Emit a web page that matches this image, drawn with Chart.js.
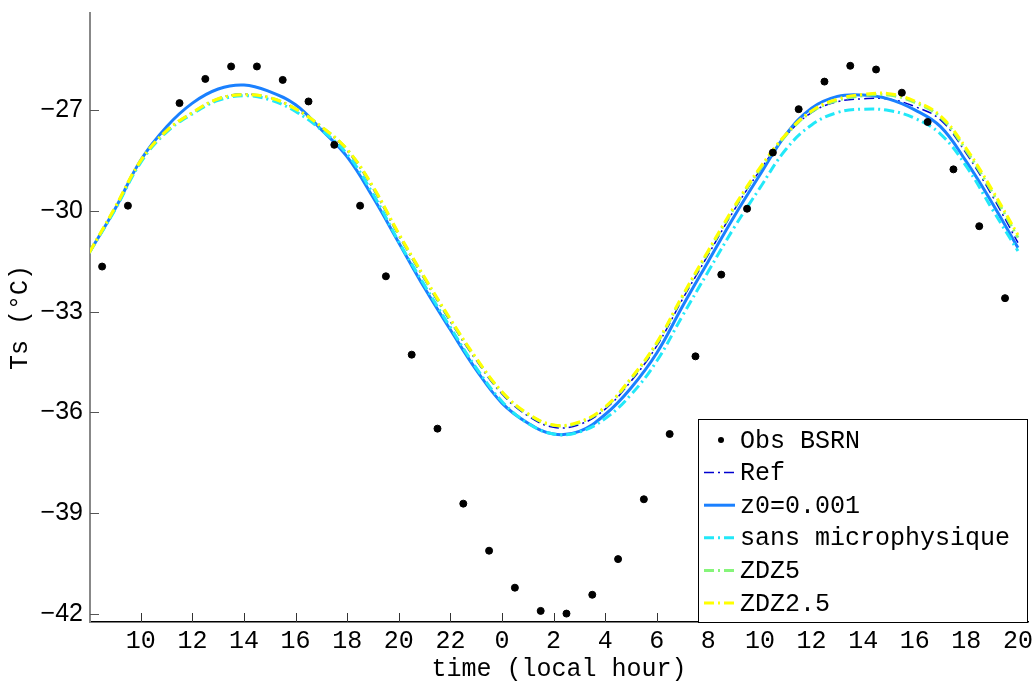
<!DOCTYPE html>
<html>
<head>
<meta charset="utf-8">
<script src="https://cdn.jsdelivr.net/npm/chart.js@4"></script>
<style>
body { margin: 0; background: #fff; }
</style>
</head>
<body>
<canvas id="graph" width="1035" height="682"></canvas>
<script>
// time axis in hours since midnight of day 1 (labels wrap at 24)
var hours = [8,9,10,11,12,13,14,15,16,17,18,19,20,21,22,23,24,25,26,27,28,29,30,31,32,33,34,35,36,37,38,39,40,41,42,43,44]
var obsHours = [8.5,9.5,11.5,12.5,13.5,14.5,15.5,16.5,17.5,18.5,19.5,20.5,21.5,22.5,23.5,24.5,25.5,26.5,27.5,28.5,29.5,30.5,31.5,32.5,33.5,34.5,35.5,36.5,37.5,38.5,39.5,40.5,41.5,42.5,43.5]
var obsBSRN = [-31.66,-29.85,-26.8,-26.08,-25.71,-25.71,-26.11,-26.75,-28.04,-29.85,-31.95,-34.28,-36.48,-38.71,-40.11,-41.21,-41.9,-41.98,-41.42,-40.36,-38.58,-36.64,-34.33,-31.9,-29.94,-28.27,-26.98,-26.16,-25.69,-25.8,-26.49,-27.36,-28.77,-30.46,-32.6]

var ref = [-31.25,-29.95,-28.52,-27.62,-27.08,-26.66,-26.53,-26.64,-26.98,-27.52,-28.22,-29.35,-30.75,-32.05,-33.3,-34.45,-35.45,-36.1,-36.44,-36.36,-35.9,-35.07,-34.02,-32.63,-31.3,-29.98,-28.8,-27.78,-27.08,-26.76,-26.67,-26.68,-26.9,-27.3,-28.3,-29.55,-30.95]
var z0 = [-31.25,-29.95,-28.49,-27.5,-26.8,-26.38,-26.26,-26.46,-26.85,-27.59,-28.4,-29.6,-30.95,-32.3,-33.54,-34.73,-35.72,-36.31,-36.64,-36.56,-36.06,-35.27,-34.23,-32.84,-31.5,-30.17,-28.93,-27.74,-26.95,-26.6,-26.56,-26.68,-27.0,-27.5,-28.54,-29.77,-31.1]
var sansMicro = [-31.25,-29.97,-28.56,-27.66,-27.12,-26.72,-26.58,-26.7,-27.05,-27.6,-28.32,-29.5,-30.92,-32.22,-33.47,-34.67,-35.67,-36.32,-36.64,-36.58,-36.18,-35.47,-34.47,-33.12,-31.8,-30.5,-29.32,-28.18,-27.45,-27.08,-26.98,-27.02,-27.25,-27.72,-28.68,-29.95,-31.2]
var zdz5 = [-31.25,-29.92,-28.52,-27.63,-27.09,-26.68,-26.55,-26.64,-26.97,-27.5,-28.18,-29.3,-30.7,-32.0,-33.25,-34.4,-35.4,-36.05,-36.38,-36.3,-35.85,-35.0,-33.95,-32.55,-31.22,-29.92,-28.76,-27.76,-27.06,-26.72,-26.58,-26.56,-26.78,-27.22,-28.22,-29.45,-30.8]
var zdz25 = [-31.25,-29.9,-28.5,-27.62,-27.08,-26.67,-26.55,-26.64,-26.97,-27.5,-28.18,-29.28,-30.68,-31.98,-33.22,-34.38,-35.38,-36.03,-36.37,-36.28,-35.83,-34.98,-33.92,-32.52,-31.18,-29.88,-28.72,-27.73,-27.03,-26.68,-26.54,-26.52,-26.74,-27.18,-28.15,-29.38,-30.72]

var xTicks = [10,12,14,16,18,20,22,24,26,28,30,32,34,36,38,40,42,44]
var yTicks = [-42,-39,-36,-33,-30,-27]

function pts(xs, ys) {
  return ys.map((v, i) => ({x: xs[i], y: v}))
}

var dashDot = [10, 4, 2, 4]
var mono = '"Liberation Mono", "Courier New", monospace'

// short ticks drawn inside the axes, like matlab
var innerTicks = {
  id: 'innerTicks',
  afterDatasetsDraw(chart) {
    var ctx = chart.ctx, a = chart.chartArea
    var xs = chart.scales.x, ys = chart.scales.y
    ctx.save()
    ctx.lineWidth = 1
    ctx.strokeStyle = '#333'
    for (var v of xTicks) {
      var px = Math.round(xs.getPixelForValue(v)) + 0.5
      ctx.beginPath(); ctx.moveTo(px, a.bottom); ctx.lineTo(px, a.bottom - 9); ctx.stroke()
    }
    ctx.strokeStyle = '#555'
    for (var v of yTicks) {
      var py = Math.round(ys.getPixelForValue(v)) + 0.5
      ctx.beginPath(); ctx.moveTo(a.left, py); ctx.lineTo(a.left + 9, py); ctx.stroke()
    }
    ctx.restore()
  }
}

// legend box sitting in the lower right corner of the axes
var legendBox = {
  id: 'legendBox',
  afterDraw(chart) {
    var ctx = chart.ctx, a = chart.chartArea
    var x0 = a.right - 330, y0 = a.bottom - 203
    ctx.save()
    ctx.fillStyle = '#fff'
    ctx.fillRect(x0, y0, a.right - x0, a.bottom - y0)
    ctx.strokeStyle = '#000'
    ctx.lineWidth = 1
    ctx.strokeRect(x0 + 0.5, y0 + 0.5, a.right - x0 - 1, a.bottom - y0)
    ctx.font = '25px ' + mono
    ctx.textBaseline = 'middle'
    chart.data.datasets.forEach((ds, i) => {
      var y = y0 + 21 + i * 32.6
      if (ds.showLine === false) {
        ctx.fillStyle = '#000'
        ctx.beginPath(); ctx.arc(x0 + 23, y, 3, 0, Math.PI * 2); ctx.fill()
      } else {
        ctx.strokeStyle = ds.borderColor
        ctx.lineWidth = ds.borderWidth
        ctx.setLineDash(ds.borderDash || [])
        ctx.beginPath(); ctx.moveTo(x0 + 6, y); ctx.lineTo(x0 + 37, y); ctx.stroke()
        ctx.setLineDash([])
      }
      ctx.fillStyle = '#000'
      ctx.fillText(ds.label, x0 + 42, y + 1)
    })
    ctx.restore()
  }
}

new Chart(document.getElementById('graph'), {
  type: 'line',
  data: {
    datasets: [
      {label: 'Obs BSRN', data: pts(obsHours, obsBSRN), showLine: false, pointRadius: 3.5,
       pointBackgroundColor: '#000', pointBorderColor: '#000', borderColor: '#000', order: 0},
      {label: 'Ref', data: pts(hours, ref), borderColor: '#0000d0', borderWidth: 1.5, borderDash: dashDot, order: 5},
      {label: 'z0=0.001', data: pts(hours, z0), borderColor: '#1a80ff', borderWidth: 3, order: 4},
      {label: 'sans microphysique', data: pts(hours, sansMicro), borderColor: '#22e8f8', borderWidth: 3, borderDash: dashDot, order: 3},
      {label: 'ZDZ5', data: pts(hours, zdz5), borderColor: '#86f57a', borderWidth: 3, borderDash: dashDot, order: 2},
      {label: 'ZDZ2.5', data: pts(hours, zdz25), borderColor: '#ffff00', borderWidth: 3, borderDash: dashDot, order: 1}
    ]
  },
  options: {
    responsive: false,
    animation: false,
    layout: {padding: {top: 13, right: 7, left: 0, bottom: 0}},
    elements: {line: {tension: 0.4, fill: false}, point: {radius: 0}},
    plugins: {legend: {display: false}, tooltip: {enabled: false}},
    scales: {
      x: {
        type: 'linear', min: 8.03, max: 44.39,
        afterBuildTicks: s => { s.ticks = xTicks.map(v => ({value: v})) },
        afterFit: s => { s.height = 60; s.paddingLeft = 0; s.paddingRight = 0 },
        grid: {display: false, drawTicks: false},
        border: {display: true, color: '#000', width: 1.5},
        ticks: {padding: 4, color: '#000', font: {family: mono, size: 25}, callback: v => String(v % 24), maxRotation: 0, autoSkip: false},
        title: {display: true, text: 'time (local hour)', color: '#000', font: {family: mono, size: 25, lineHeight: 1}, padding: {top: 0, bottom: 0}}
      },
      y: {
        type: 'linear', min: -42.23, max: -24.12,
        afterBuildTicks: s => { s.ticks = yTicks.map(v => ({value: v})) },
        afterFit: s => { s.width = 90; s.paddingTop = 0; s.paddingBottom = 0 },
        grid: {display: false, drawTicks: false},
        border: {display: true, color: '#888', width: 2},
        ticks: {padding: 7, color: '#000', font: {family: '"Liberation Sans", Arial, sans-serif', size: 25}, callback: v => '\u2212' + Math.abs(v)},
        title: {display: true, text: 'Ts (°C)', color: '#000', font: {family: mono, size: 25, lineHeight: 1}, padding: {top: 8, bottom: 0}}
      }
    }
  },
  plugins: [innerTicks, legendBox]
})
</script>
</body>
</html>
